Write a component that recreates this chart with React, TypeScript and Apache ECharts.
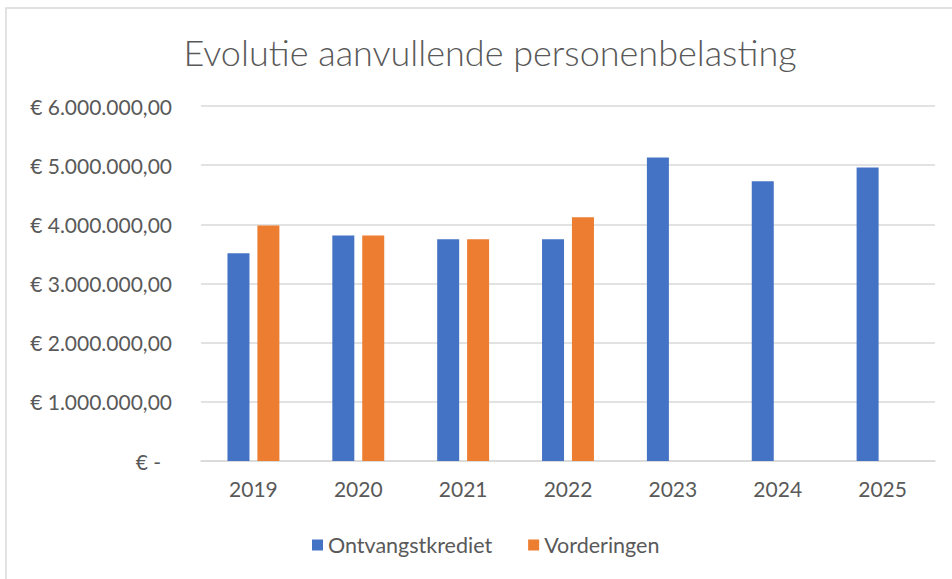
import React, { useEffect, useRef } from "react";
import * as echarts from "echarts";

const categories = ["2019", "2020", "2021", "2022", "2023", "2024", "2025"];
const ontvangstkrediet = [3510000, 3810000, 3750000, 3750000, 5130000, 4730000, 4960000];
const vorderingen: (number | null)[] = [3980000, 3810000, 3750000, 4120000, null, null, null];
const seriesNames = ["Ontvangstkrediet", "Vorderingen"];
const titleText = "Evolutie aanvullende personenbelasting";

const FONT = "Lato, 'Open Sans', sans-serif";
const TEXT = "#595959";

function formatEuro(v: number): string {
  if (v === 0) return "{z|€ -}";
  const s = Math.round(v).toString().replace(/\B(?=(\d{3})+(?!\d))/g, ".");
  return "€ " + s + ",00";
}

export default function App() {
  const ref = useRef<HTMLDivElement>(null);
  useEffect(() => {
    if (!ref.current) return;
    const chart = echarts.init(ref.current, undefined, { renderer: "svg" });
    chart.setOption({
      animation: false,
      backgroundColor: "#ffffff",
      textStyle: { fontFamily: FONT },
      title: {
        text: titleText,
        left: 485,
        top: 29,
        textAlign: "center",
        textStyle: { fontFamily: FONT, fontSize: 36, fontWeight: 300, color: TEXT },
      },
      graphic: [
        {
          type: "rect",
          shape: { x: 6, y: 8, width: 980, height: 620 },
          style: { fill: "none", stroke: "#D9D9D9", lineWidth: 1.5 },
          silent: true,
        },
      ],
      legend: {
        left: 307,
        top: 529,
        itemWidth: 11,
        itemHeight: 11,
        itemGap: 36,
        icon: "rect",
        textStyle: { fontFamily: FONT, fontSize: 21.5, color: TEXT },
        data: seriesNames,
      },
      grid: { left: 201, right: 17, top: 106, bottom: 118 },
      xAxis: {
        type: "category",
        data: categories,
        axisTick: { show: false },
        axisLine: { lineStyle: { color: "#D9D9D9", width: 1.5 } },
        axisLabel: { color: TEXT, fontSize: 21, fontFamily: FONT, margin: 17 },
      },
      yAxis: {
        type: "value",
        min: 0,
        max: 6000000,
        interval: 1000000,
        axisLine: { show: false },
        axisTick: { show: false },
        splitLine: { lineStyle: { color: "#D9D9D9", width: 1.5 } },
        axisLabel: {
          color: TEXT,
          fontSize: 21,
          fontFamily: FONT,
          margin: 29,
          formatter: (v: number) => formatEuro(v),
          rich: {
            z: { color: TEXT, fontSize: 21, fontFamily: FONT, padding: [0, 11, 0, 0] },
          },
        },
      },
      series: [
        {
          name: seriesNames[0],
          type: "bar",
          data: ontvangstkrediet,
          barWidth: 22,
          barGap: "36%",
          itemStyle: { color: "#4472C4" },
        },
        {
          name: seriesNames[1],
          type: "bar",
          data: vorderingen,
          barWidth: 22,
          barGap: "36%",
          itemStyle: { color: "#ED7D31" },
        },
      ],
    });
    return () => chart.dispose();
  }, []);
  return (
    <div
      ref={ref}
      style={{ position: "fixed", left: 0, top: 0, width: 952, height: 579 }}
    />
  );
}
